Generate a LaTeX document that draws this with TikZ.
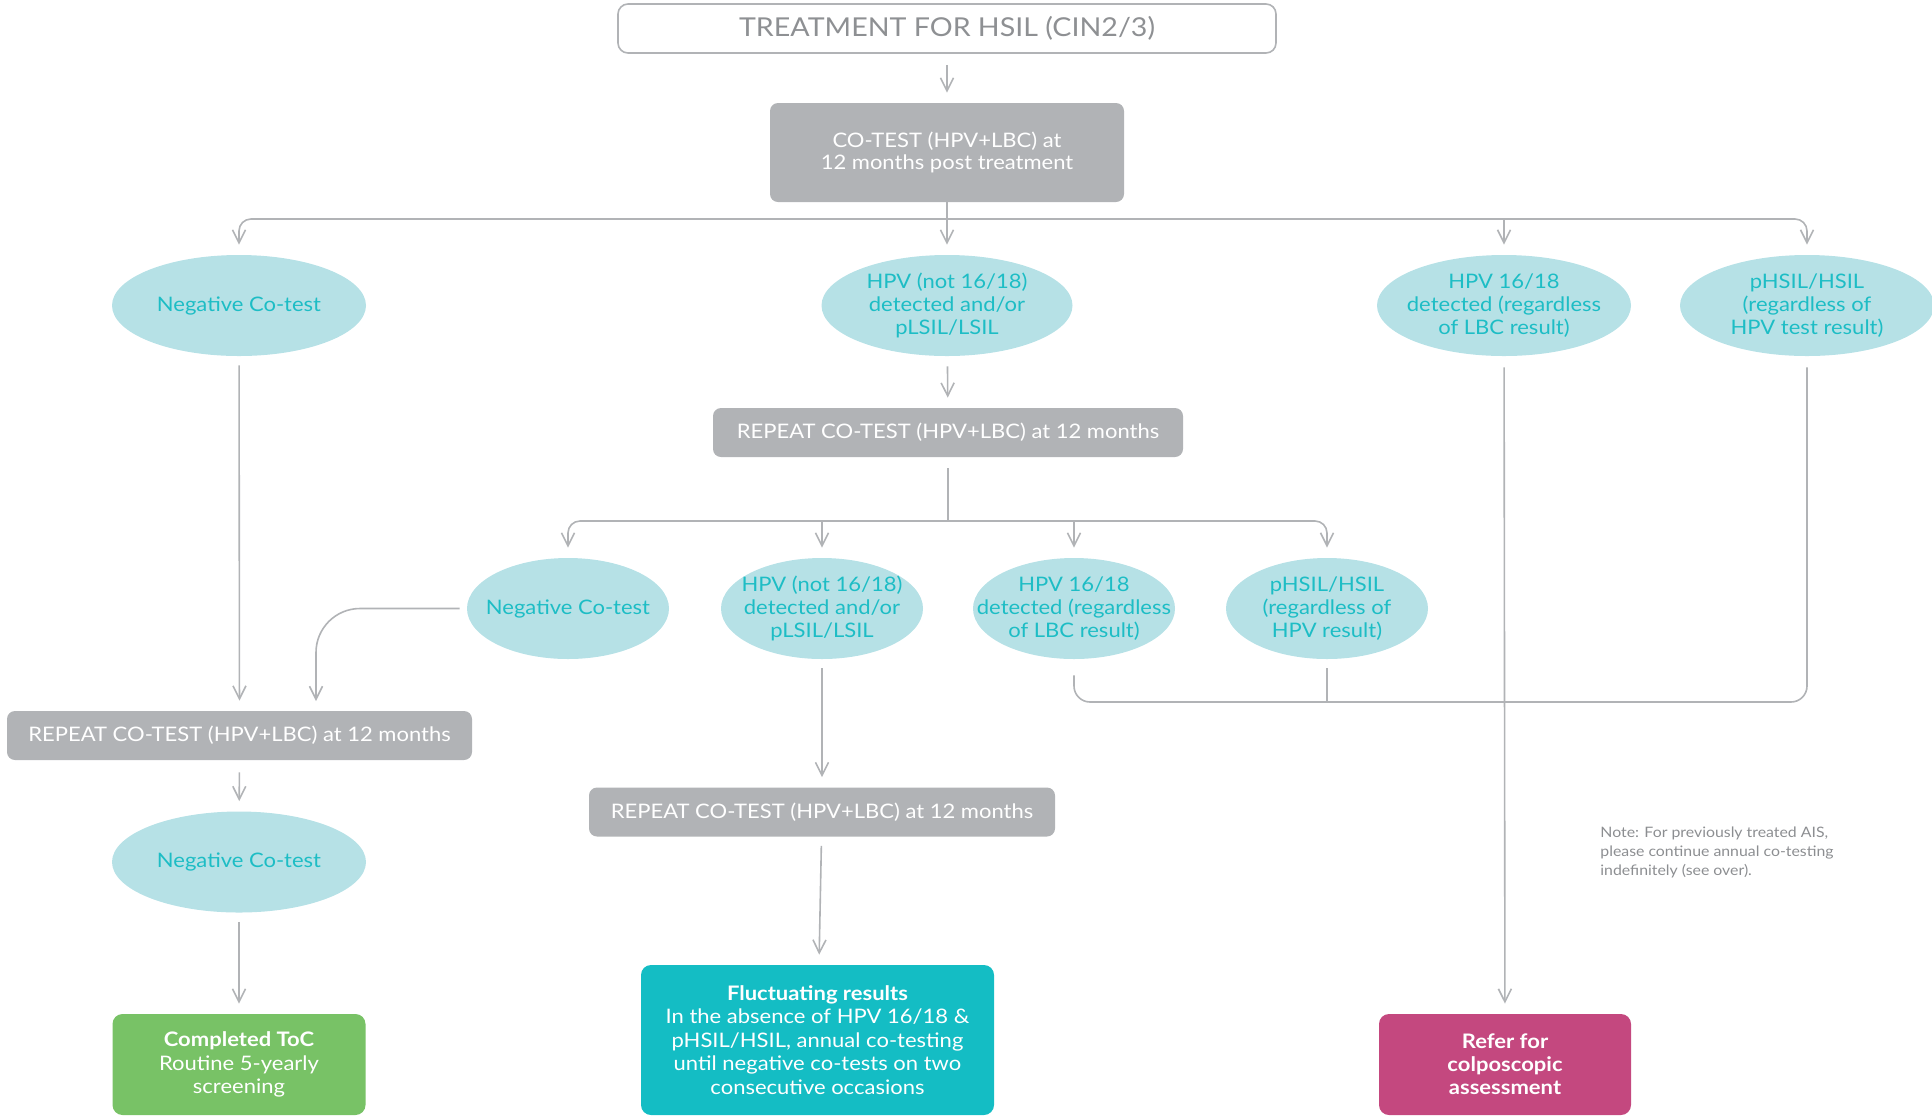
\documentclass[tikz,border=0pt]{standalone}
\usepackage{fontspec}
\setmainfont{Lato}[FakeStretch=1.1]
\usetikzlibrary{shapes.geometric,arrows.meta}
\definecolor{boxgray}{HTML}{B1B3B6}
\definecolor{titlegray}{HTML}{8E9093}
\definecolor{ovalbg}{HTML}{B6E1E6}
\definecolor{ovaltxt}{HTML}{1DBDC5}
\definecolor{tocgreen}{HTML}{78C266}
\definecolor{flucteal}{HTML}{14BDC4}
\definecolor{refermag}{HTML}{C4487F}
\definecolor{notegray}{HTML}{8C8E91}
\begin{document}
\begin{tikzpicture}[x=0.5pt,y=-0.5pt,
        link/.style={draw=boxgray,line width=0.8pt},
        arr/.style={link,-{Straight Barb[length=6.5pt,width=6.5pt]},shorten >=5pt},
        greybox/.style={fill=boxgray,text=white,rounded corners=4pt,align=center,inner sep=0pt,
            minimum height=24.5pt,font=\fontsize{10}{11}\selectfont},
        oval/.style={ellipse,fill=ovalbg,inner sep=0pt,minimum width=#1,minimum height=50.5pt},
        ovaltext/.style={text=ovaltxt,align=center,font=\fontsize{10}{11.5}\selectfont},
        endbox/.style={fill=#1,text=white,rounded corners=5pt,align=center,inner sep=0pt,
            font=\fontsize{10}{11.7}\selectfont}]
            \useasboundingbox (0,0) rectangle (1932,1115);

            \node[draw=boxgray,line width=0.8pt,rounded corners=5pt,minimum width=329pt,minimum height=24.5pt,
                text=titlegray,font=\fontsize{13}{15}\selectfont] (title) at (947,28.5) {TREATMENT FOR HSIL (CIN2/3)};
            \node[greybox,minimum width=177pt,minimum height=49.5pt] (cotest) at (947,152.5) {CO-TEST (HPV+LBC) at\\12 months post treatment};

            \node[oval=127pt,label={[ovaltext]center:Negative Co-test}] (neg1) at (239,305.5) {};
            \node[oval=125.5pt,label={[ovaltext]center:HPV (not 16/18)\\detected and/or\\pLSIL/LSIL}] (hpvx1) at (947,305.5) {};
            \node[oval=127pt,label={[ovaltext]center:HPV 16/18\\detected (regardless\\of LBC result)}] (hpv1) at (1504,305.5) {};
            \node[oval=127pt,label={[ovaltext]center:pHSIL/HSIL\\(regardless of\\HPV test result)}] (hsil1) at (1807,305.5) {};

            \node[greybox,minimum width=235pt] (repeat1) at (948,432.5) {REPEAT CO-TEST (HPV+LBC) at 12 months};

            \node[oval=101pt,label={[ovaltext]center:Negative Co-test}] (neg2) at (568,608.5) {};
            \node[oval=101pt,label={[ovaltext]center:HPV (not 16/18)\\detected and/or\\pLSIL/LSIL}] (hpvx2) at (822,608.5) {};
            \node[oval=101pt,label={[ovaltext]center:HPV 16/18\\detected (regardless\\of LBC result)}] (hpv2) at (1074,608.5) {};
            \node[oval=101pt,label={[ovaltext]center:pHSIL/HSIL\\(regardless of\\HPV result)}] (hsil2) at (1327,608.5) {};

            \node[greybox,minimum width=232.5pt] (repeat3) at (239.5,735.5) {REPEAT CO-TEST (HPV+LBC) at 12 months};
            \node[oval=127pt,label={[ovaltext]center:Negative Co-test}] (neg3) at (239,862) {};
            \node[endbox=tocgreen,minimum width=126.5pt,minimum height=50.5pt] (toc) at (239,1064.5) {\textbf{Completed ToC}\\Routine 5-yearly\\screening};

            \node[greybox,minimum width=233pt] (repeat2) at (822,812) {REPEAT CO-TEST (HPV+LBC) at 12 months};
            \node[endbox=flucteal,minimum width=176.5pt,minimum height=75pt] (fluct) at (817.5,1040)
                {\textbf{Fluctuating results}\\In the absence of HPV 16/18 \&\\pHSIL/HSIL, annual co-testing\\until negative co-tests on two\\consecutive occasions};

            \node[endbox=refermag,minimum width=126pt,minimum height=50.5pt,font=\bfseries\fontsize{10}{11.5}\selectfont] (refer) at (1505,1064.5) {Refer for\\colposcopic\\assessment};
            \node[anchor=north west,inner sep=0pt,align=left,text=notegray,font=\fontsize{7.2}{9.5}\selectfont] (note) at (1600,826)
                {Note: For previously treated AIS,\\please continue annual co-testing\\indefinitely (see over).};

            \coordinate (split1) at (947,219);
            \coordinate (split2) at (948,521);
            \coordinate (join2) at (1807,702);
            \coordinate (join3) at (316,711);

            \draw[arr,shorten <=5.5pt] (title) -- (cotest);
            \draw[link] (cotest.south) -- (split1);
            \draw[arr,rounded corners=6pt] (split1) -| (neg1.north);
            \draw[arr,rounded corners=6pt] (split1) -| (hsil1.north);
            \draw[arr] (split1) -- (hpvx1.north);
            \draw[arr] (split1 -| hpv1) -- (hpv1.north);

            \draw[arr,shorten <=5pt] (hpvx1) -- (repeat1);
            \draw[link,shorten <=5.5pt] (repeat1.south) -- (split2);
            \draw[arr,rounded corners=6pt] (split2) -| (neg2.north);
            \draw[arr,rounded corners=6pt] (split2) -| (hsil2.north);
            \draw[arr] (split2 -| hpvx2) -- (hpvx2.north);
            \draw[arr] (split2 -| hpv2) -- (hpv2.north);

            \draw[arr,shorten <=4.5pt] (neg1) -- (repeat3);
            \draw[arr,rounded corners=22pt,shorten <=3.5pt] (neg2.west) -| (join3);
            \draw[arr,shorten <=6pt] (repeat3) -- (neg3);
            \draw[arr,shorten <=4.5pt] (neg3) -- (toc);

            \draw[arr,shorten <=4.5pt] (hpvx2) -- (repeat2);
            \draw[arr,shorten <=4.5pt] (repeat2) -- (fluct);

            \draw[arr,shorten <=5.5pt] (hpv1) -- (refer);
            \draw[link,rounded corners=8pt,shorten <=8pt,shorten >=5.5pt] (hpv2.south) |- (join2) -- (hsil1.south);
            \draw[link,shorten <=4.5pt] (hsil2.south) -- (hsil2.south |- join2);
        \end{tikzpicture}
\end{document}
